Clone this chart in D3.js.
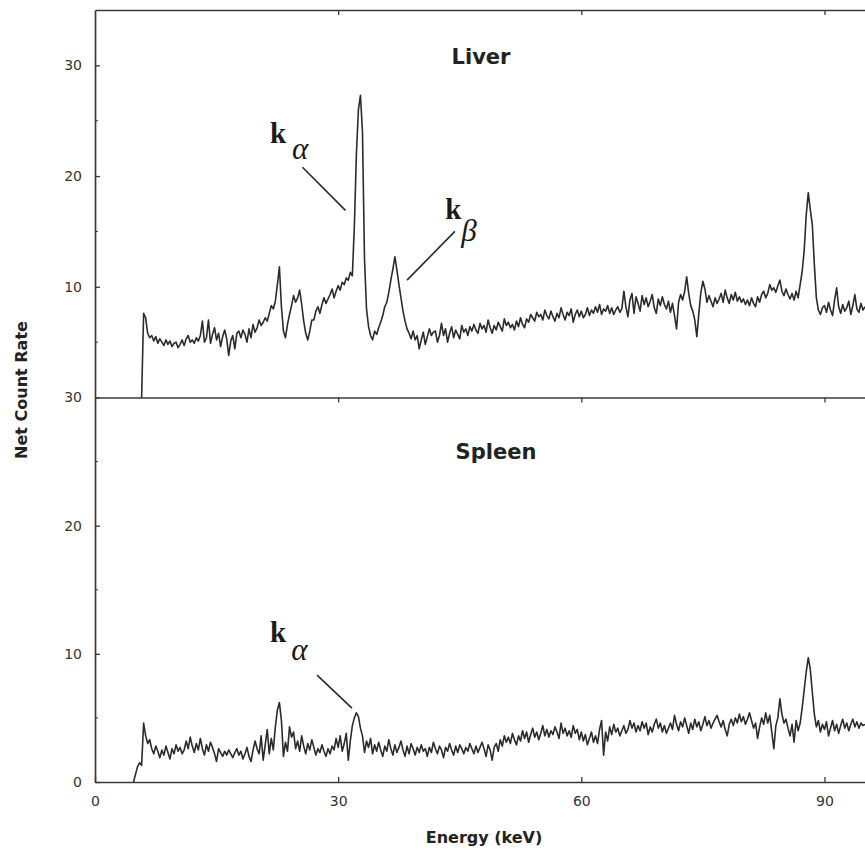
<!DOCTYPE html>
<html>
<head>
<meta charset="utf-8">
<script src="https://cdn.jsdelivr.net/npm/d3@7"></script>
<style>
  body { margin: 0; background: #fff; }
  svg { display: block; }
</style>
</head>
<body>
<svg id="chart" width="865" height="849"></svg>
<script>
// Energy channels are 0.25 keV wide; each series lists net count rate per channel.
const channelWidth = 0.25;

// Liver spectrum, first channel at 5.75 keV
const liverStart = 5.75;
const liverCounts = [
  0,
  7.6, 7.2, 5.8, 5.4,   5.6, 5.1, 5.5, 4.9,   5.3, 5.0, 4.7, 5.2,   4.8, 5.1, 4.6, 4.9,   // 6-9
  5.0, 4.5, 4.8, 5.2,   4.7, 5.3, 5.6, 5.0,   5.2, 4.9, 5.4, 5.1,   5.6, 6.9, 5.0, 5.4,   // 10-13
  7.0, 4.9, 5.7, 6.3,   5.2, 5.8, 4.6, 5.5,   6.1, 5.3, 3.8, 5.1,   5.6, 4.4, 5.8, 6.0,   // 14-17
  5.4, 6.1, 5.7, 5.0,   6.2, 5.4, 6.6, 5.9,   6.3, 7.0, 6.5, 6.8,   7.2, 6.9, 7.6, 8.3,   // 18-21
  8.0, 8.7, 10.2, 11.8, 8.2, 6.0, 5.4, 6.6,   7.5, 8.3, 9.2, 8.6,   9.0, 9.7, 8.4, 6.9,   // 22-25
  5.8, 5.2, 6.0, 7.0,   7.0, 7.8, 8.2, 7.6,   8.4, 9.0, 8.5, 8.9,   9.3, 9.8, 9.0, 9.6,   // 26-29
  10.1, 9.7, 10.4, 10.2, 10.8, 10.6, 11.3, 11.0, 15.5, 22.0, 26.0, 27.3, 24.0, 12.5, 8.0, 6.4, // 30-33
  5.6, 5.2, 6.0, 5.7,   6.3, 6.8, 7.4, 8.2,   8.6, 9.5, 10.6, 11.6, 12.7, 11.5, 10.2, 9.0, // 34-37
  7.8, 6.9, 6.2, 5.8,   5.3, 6.0, 5.2, 5.6,   4.4, 5.2, 5.9, 4.8,   5.5, 6.2, 5.6, 5.9,   // 38-41
  6.0, 5.0, 5.6, 6.7,   5.6, 6.2, 5.0, 5.8,   6.4, 5.4, 6.1, 5.7,   5.3, 6.5, 5.9, 6.2,   // 42-45
  5.6, 6.4, 6.0, 6.6,   6.1, 5.8, 6.7, 6.2,   6.5, 5.9, 7.0, 6.3,   5.8, 6.5, 6.1, 6.8,   // 46-49
  6.4, 6.0, 7.1, 6.5,   6.8, 6.3, 6.6, 6.1,   6.9, 6.4, 7.2, 6.6,   6.3, 7.1, 6.8, 7.5,   // 50-53
  7.2, 6.9, 7.7, 7.3,   7.5, 7.0, 7.9, 7.4,   7.1, 7.8, 7.3, 6.9,   7.6, 7.2, 8.1, 7.5,   // 54-57
  7.0, 7.7, 7.4, 8.0,   6.8, 7.5, 7.9, 7.3,   7.8, 7.2, 7.5, 8.1,   7.4, 7.9, 7.6, 8.2,   // 58-61
  7.7, 8.4, 7.5, 8.0,   7.8, 8.3, 7.6, 8.1,   7.5, 7.9, 8.2, 7.7,   8.0, 9.6, 8.2, 7.3,   // 62-65
  8.8, 9.4, 7.6, 9.1,   8.5, 7.8, 9.2, 8.4,   9.0, 8.2, 8.7, 9.3,   8.1, 7.6, 8.9, 8.3,   // 66-69
  9.1, 8.4, 8.0, 8.7,   7.7, 8.5, 7.4, 6.2,   8.6, 9.3, 8.8, 9.6,   10.9, 9.4, 8.3, 7.8,  // 70-73
  7.0, 5.5, 7.6, 9.5,   10.5, 9.8, 8.6, 9.2,  8.7, 8.2, 9.0, 8.5,   8.9, 9.4, 8.6, 9.7,   // 74-77
  9.0, 8.5, 9.3, 8.8,   9.5, 8.7, 9.1, 8.6,   8.9, 8.4, 8.8, 8.3,   9.0, 8.5, 8.2, 9.1,   // 78-81
  8.6, 9.3, 9.6, 9.0,   9.4, 10.2, 9.7, 9.9,  9.5, 10.1, 10.6, 9.6, 9.2, 9.8, 9.3, 8.9,  // 82-85
  9.4, 8.8, 9.6, 9.0,   10.2, 11.4, 13.3, 16.5, 18.5, 17.0, 15.6, 12.0, 9.0, 7.9, 7.5, 8.1, // 86-89
  8.3, 7.7, 8.6, 7.9,   7.4, 8.8, 9.9, 8.2,   7.6, 8.4, 7.8, 8.1,   8.7, 7.5, 8.3, 9.3,   // 90-93
  8.0, 7.7, 8.5, 7.9,   8.2                                                              // 94-95
];

// Spleen spectrum, first channel at 4.75 keV
const spleenStart = 4.75;
const spleenCounts = [
  0,
  0.6, 1.2, 1.5, 1.3,   4.6, 3.6, 3.0, 3.3,   2.6, 2.2, 2.8, 2.4,   1.9, 2.5, 2.1, 2.8,   // 5-8
  2.3, 1.8, 2.6, 2.2,   2.9, 2.4, 2.7, 2.2,   2.5, 3.2, 2.6, 3.5,   2.8, 2.3, 3.0, 2.5,   // 9-12
  3.4, 2.6, 2.1, 2.9,   2.4, 3.1, 2.7, 2.2,   1.6, 2.6, 2.3, 2.0,   2.4, 2.1, 2.5, 2.2,   // 13-16
  1.9, 2.3, 2.6, 2.1,   2.4, 1.8, 2.2, 2.7,   2.0, 1.6, 2.5, 3.2,   2.6, 2.2, 3.6, 1.7,   // 17-20
  2.9, 4.1, 2.2, 3.4,   2.5, 4.3, 5.6, 6.2,   4.8, 2.0, 3.1, 2.4,   4.3, 3.5, 3.9, 2.6,   // 21-24
  3.2, 2.4, 3.6, 2.8,   2.2, 3.0, 2.5, 3.3,   2.7, 2.1, 2.6, 2.3,   2.9, 2.4, 2.0, 2.6,   // 25-28
  2.2, 2.8, 2.5, 3.4,   2.7, 3.6, 2.4, 3.0,   3.8, 1.7, 3.2, 4.4,   5.0, 5.4, 5.1, 4.2,   // 29-32
  3.6, 2.3, 3.2, 2.7,   3.4, 2.2, 2.9, 2.4,   3.1, 2.5, 2.0, 2.8,   2.4, 3.3, 2.6, 2.1,   // 33-36
  2.9, 2.3, 2.7, 3.2,   2.5, 2.0, 2.8, 2.2,   3.0, 2.6, 2.1, 2.7,   2.3, 2.9, 2.4, 2.6,   // 37-40
  2.0, 2.7, 2.3, 3.1,   2.6, 2.2, 2.8, 2.5,   1.9, 2.7, 2.4, 3.0,   2.5, 2.1, 2.8, 2.3,   // 41-44
  2.9, 2.6, 2.2, 2.7,   2.4, 3.0, 2.6, 2.2,   2.8, 2.3, 2.7, 3.1,   2.6, 2.0, 2.9, 2.5,   // 45-48
  1.7, 2.7, 3.0, 2.4,   3.3, 2.8, 3.6, 3.1,   3.5, 3.0, 3.8, 3.3,   2.9, 3.6, 3.2, 4.0,   // 49-52
  3.4, 3.9, 3.1, 3.7,   4.2, 3.5, 3.9, 3.3,   3.8, 4.4, 3.6, 4.1,   3.5, 4.0, 3.7, 4.3,   // 53-56
  3.9, 3.4, 4.6, 3.8,   4.2, 3.6, 4.0, 3.5,   4.4, 3.8, 4.1, 3.3,   3.9, 3.2, 3.7, 2.9,   // 57-60
  3.4, 3.9, 3.1, 3.6,   3.0, 4.1, 4.8, 2.1,   3.9, 3.2, 4.3, 3.7,   4.5, 3.9, 4.2, 3.6,   // 61-64
  4.0, 4.4, 3.8, 4.1,   4.8, 4.2, 4.6, 3.9,   4.4, 4.0, 4.7, 4.2,   4.6, 3.7, 4.3, 3.9,   // 65-68
  4.5, 4.9, 4.2, 4.6,   3.9, 4.4, 3.8, 4.2,   4.6, 4.1, 5.2, 4.5,   4.0, 4.7, 4.3, 5.0,   // 69-72
  4.4, 3.8, 4.6, 4.1,   4.9, 4.3, 4.7, 4.0,   4.5, 5.1, 4.4, 4.8,   4.2, 4.6, 4.9, 5.2,   // 73-76
  4.7, 4.3, 4.8, 4.1,   3.6, 4.5, 4.9, 4.4,   5.0, 4.6, 5.3, 4.7,   5.1, 4.5, 4.9, 5.4,   // 77-80
  4.8, 4.2, 4.6, 3.4,   4.3, 5.0, 4.5, 5.4,   4.6, 5.2, 3.9, 2.6,   4.4, 5.0, 6.5, 5.3,   // 81-84
  4.6, 4.9, 4.2, 3.6,   4.5, 3.1, 4.8, 4.0,   4.6, 5.8, 7.2, 8.6,   9.7, 8.8, 7.0, 5.3,   // 85-88
  4.3, 4.8, 3.9, 4.5,   4.1, 4.7, 3.6, 4.2,   4.8, 4.0, 4.5, 3.8,   4.4, 4.9, 4.2, 4.6,   // 89-92
  4.0, 4.5, 4.9, 4.3,   4.7, 4.2, 4.6, 4.4,   4.5                                          // 93-95
];

// Axis ticks
const energyTicks = [0, 30, 60, 90];
const liverRateTicks = [10, 20, 30];
const spleenRateTicks = [0, 10, 20, 30];
const liverMinorTicks = [5, 15, 25];
const spleenMinorTicks = [5, 15, 25];

// Panel titles and axis titles
const panelTitles = ["Liver", "Spleen"];
const xTitle = "Energy (keV)";
const yTitle = "Net Count Rate";

// Peak annotations: label anchor and leader line ends in data units
const liverNotes = [
  { sub: "\u03b1", k: [21.6, 23.0], s: [24.3, 21.5], from: [25.6, 20.8], to: [30.9, 16.9] },
  { sub: "\u03b2", k: [43.2, 16.1], s: [45.2, 14.1], from: [44.4, 15.0], to: [38.5, 10.6] }
];
const spleenNotes = [
  { sub: "\u03b1", k: [21.6, 10.9], s: [24.2, 9.5], from: [27.4, 8.34], to: [31.7, 5.77] }
];

const toPoints = (start, counts) => counts.map((c, i) => ({ e: start + i * channelWidth, c }));
const liverSeries = toPoints(liverStart, liverCounts);
const spleenSeries = toPoints(spleenStart, spleenCounts);

// Layout
const left = 95, right = 865;
const topY0 = 10, midY = 397.5, botY = 782;

const svg = d3.select("#chart");
const ink = "#2b2b2b";

const x = d3.scaleLinear().domain([0, 95]).range([left, right]);
const yLiver = d3.scaleLinear().domain([0, 35]).range([midY, topY0]);
const ySpleen = d3.scaleLinear().domain([0, 30]).range([botY, midY]);

svg.append("defs").append("clipPath").attr("id", "plotClip")
  .append("rect").attr("x", left).attr("y", topY0).attr("width", right - left).attr("height", botY - topY0);

function styleAxis(g) {
  g.selectAll("path.domain").attr("stroke", "#3a3a3a").attr("stroke-width", 1.7);
  g.selectAll(".tick line").attr("stroke", "#3a3a3a").attr("stroke-width", 1.3);
  g.selectAll(".tick text")
    .attr("fill", "#333")
    .attr("font-family", "'DejaVu Sans', sans-serif")
    .attr("font-size", 14);
}

// Horizontal frame lines (top border, divider, bottom axis)
const frame = svg.append("g");
[topY0, midY].forEach(yy => {
  const g = frame.append("g").attr("transform", `translate(0,${yy})`)
    .call(d3.axisTop(x).tickValues([30, 60, 90]).tickSizeInner(-5).tickSizeOuter(0).tickFormat(""));
  styleAxis(g);
});
const gx = frame.append("g").attr("transform", `translate(0,${botY})`)
  .call(d3.axisBottom(x).tickValues(energyTicks).tickSizeInner(-5).tickSizeOuter(0).tickPadding(14));
styleAxis(gx);

// Left axes
const gyL = frame.append("g").attr("transform", `translate(${left},0)`)
  .call(d3.axisLeft(yLiver).tickValues(liverRateTicks).tickSizeInner(-5).tickSizeOuter(0).tickPadding(13));
styleAxis(gyL);
const gyS = frame.append("g").attr("transform", `translate(${left},0)`)
  .call(d3.axisLeft(ySpleen).tickValues(spleenRateTicks).tickSizeInner(-5).tickSizeOuter(0).tickPadding(13));
styleAxis(gyS);

// Minor ticks
const minor = frame.append("g").attr("stroke", "#3a3a3a").attr("stroke-width", 1);
minor.selectAll("line.ml").data(liverMinorTicks).join("line")
  .attr("x1", left).attr("x2", left + 3).attr("y1", d => yLiver(d)).attr("y2", d => yLiver(d));
minor.selectAll("line.ms").data(spleenMinorTicks).join("line")
  .attr("x1", left).attr("x2", left + 3).attr("y1", d => ySpleen(d)).attr("y2", d => ySpleen(d));

// Spectra
const plot = svg.append("g").attr("clip-path", "url(#plotClip)");
const lineLiver = d3.line().x(d => x(d.e)).y(d => yLiver(d.c));
const lineSpleen = d3.line().x(d => x(d.e)).y(d => ySpleen(d.c));
plot.append("path").datum(liverSeries).attr("d", lineLiver)
  .attr("fill", "none").attr("stroke", ink).attr("stroke-width", 1.6).attr("stroke-linejoin", "round");
plot.append("path").datum(spleenSeries).attr("d", lineSpleen)
  .attr("fill", "none").attr("stroke", ink).attr("stroke-width", 1.6).attr("stroke-linejoin", "round");

// Panel titles
const titleFont = "'DejaVu Sans', sans-serif";
svg.append("text").text(panelTitles[0])
  .attr("x", 481).attr("y", 64).attr("text-anchor", "middle")
  .attr("font-family", titleFont).attr("font-weight", "bold").attr("font-size", 21).attr("fill", "#222");
svg.append("text").text(panelTitles[1])
  .attr("x", 496).attr("y", 459).attr("text-anchor", "middle")
  .attr("font-family", titleFont).attr("font-weight", "bold").attr("font-size", 21).attr("fill", "#222");

// Axis titles
svg.append("text").text(xTitle)
  .attr("x", 484).attr("y", 843).attr("text-anchor", "middle")
  .attr("font-family", titleFont).attr("font-weight", "bold").attr("font-size", 16).attr("fill", "#222");
svg.append("text").text(yTitle)
  .attr("transform", "translate(27,390) rotate(-90)").attr("text-anchor", "middle")
  .attr("font-family", titleFont).attr("font-weight", "bold").attr("font-size", 16).attr("fill", "#222");

// Peak annotations
function drawNotes(notes, ys) {
  const g = svg.append("g");
  notes.forEach(n => {
    g.append("text").text("k")
      .attr("x", x(n.k[0])).attr("y", ys(n.k[1]))
      .attr("font-family", "'Liberation Serif', serif").attr("font-weight", "bold")
      .attr("font-size", 29).attr("fill", "#1a1a1a");
    g.append("text").text(n.sub)
      .attr("x", x(n.s[0])).attr("y", ys(n.s[1]))
      .attr("font-family", "'Liberation Serif', serif").attr("font-style", "italic")
      .attr("font-size", 31).attr("fill", "#1a1a1a");
    g.append("line")
      .attr("x1", x(n.from[0])).attr("y1", ys(n.from[1]))
      .attr("x2", x(n.to[0])).attr("y2", ys(n.to[1]))
      .attr("stroke", "#2a2a2a").attr("stroke-width", 1.6);
  });
}
drawNotes(liverNotes, yLiver);
drawNotes(spleenNotes, ySpleen);
</script>
</body>
</html>
